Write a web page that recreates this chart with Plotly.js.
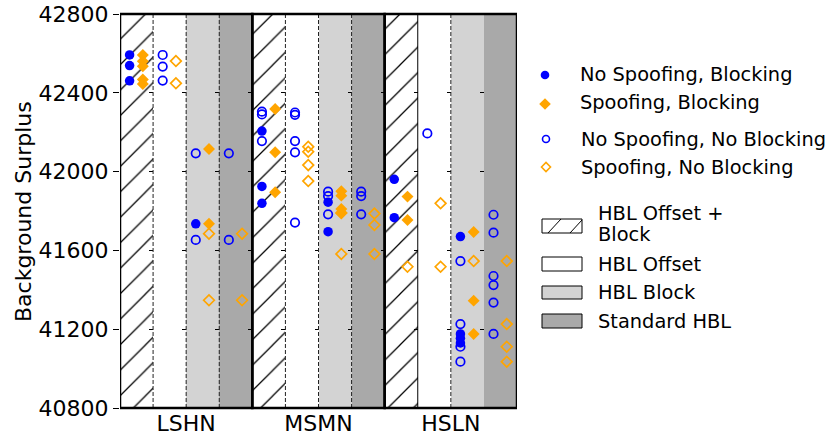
<!DOCTYPE html>
<html><head><meta charset="utf-8">
<script src="https://cdn.plot.ly/plotly-3.0.1.min.js"></script>
<style>html,body{margin:0;padding:0;background:#fff}</style>
</head><body><div id="chart" style="width:830px;height:435px"></div>
<script>
// ---------------- data ----------------
const panels = ['LSHN', 'MSMN', 'HSLN'];
const bands = ['HBL Offset + Block', 'HBL Offset', 'HBL Block', 'Standard HBL'];
const yTicks = [40800, 41200, 41600, 42000, 42400, 42800];
const yRange = [40800, 42800];

// No Spoofing, Blocking (filled blue circles)
const nsbPanel = [0,0,0, 0, 1,1,1, 1,1, 2,2, 2,2,2,2];
const nsbBand  = [0,0,0, 2, 0,0,0, 2,2, 0,0, 2,2,2,2];
const nsbValue = [42592,42538,42461, 41735, 42206,41925,41839, 41845,41695, 41961,41766, 41670,41176,41154,41130];

// Spoofing, Blocking (filled orange diamonds)
const sbPanel = [0,0,0,0,0, 0,0, 1,1,1, 1,1,1,1, 2,2, 2,2,2];
const sbBand  = [0,0,0,0,0, 2,2, 0,0,0, 2,2,2,2, 0,0, 2,2,2];
const sbValue = [42592,42560,42535,42468,42445, 42115,41735, 42318,42098,41895, 41900,41878,41810,41790, 41873,41754, 41693,41345,41176];

// No Spoofing, No Blocking (open blue circles)
const nsnbPanel = [0,0,0, 0,0, 0,0, 1,1,1, 1,1,1,1,1, 1,1,1, 1,1,1, 2, 2,2,2,2, 2,2,2,2,2,2];
const nsnbBand  = [1,1,1, 2,2, 3,3, 0,0,0, 1,1,1,1,1, 2,2,2, 3,3,3, 1, 2,2,2,2, 3,3,3,3,3,3];
const nsnbValue = [42592,42533,42462, 42093,41653, 42093,41653, 42304,42290,42155, 42300,42288,42155,42098,41741,
                   41898,41876,41783, 41898,41876,41783, 42194, 41546,41226,41111,41035, 41781,41690,41470,41424,41335,41176];

// Spoofing, No Blocking (open orange diamonds)
const snbPanel = [0,0, 0,0, 0,0, 1,1,1,1, 1,1, 1,1,1, 2, 2,2, 2, 2,2,2,2];
const snbBand  = [1,1, 2,2, 3,3, 1,1,1,1, 2,2, 3,3,3, 0, 1,1, 2, 3,3,3,3];
const snbValue = [42561,42448, 41685,41347, 41685,41347, 42126,42101,42033,41952, 41790,41582, 41787,41729,41582,
                  41517, 41839,41517, 41546, 41546,41226,41111,41035];

// ---------------- helpers ----------------
const FONT = 'DejaVu Sans, Liberation Sans, sans-serif';
const BLUE = '#0000ff', ORANGE = '#ffa500';
const nB = bands.length;
const xOf = (p, b, off) => p.map((pi, i) => pi * nB + b[i] + off);

const L = 120, R = 517, T = 14, B = 408;
const px = x => (x - L) / (R - L);
const py = y => (B - y) / (B - T);

const traces = [];

// background bands as bars
const bandFill = ['white', 'white', '#d3d3d3', '#a9a9a9'];
bands.forEach((name, b) => {
  const xs = panels.map((_, p) => p * nB + b + 0.5);
  const t = {
    type: 'bar', x: xs, y: panels.map(() => yRange[1] - yRange[0]), base: yRange[0],
    width: 1, showlegend: false, hoverinfo: 'skip',
    marker: { color: bandFill[b], line: { width: 0 } }
  };
  if (b === 0) {
    t.marker.pattern = { shape: '/', fgcolor: 'black', bgcolor: 'white', size: 18, solidity: 0.07, fillmode: 'replace' };
  }
  traces.push(t);
});

traces.push({
  type: 'scatter', mode: 'markers', name: 'No Spoofing, Blocking',
  x: xOf(nsbPanel, nsbBand, 0.29), y: nsbValue, showlegend: false,
  marker: { symbol: 'circle', size: 9.5, color: BLUE, line: { width: 0 } }
});
traces.push({
  type: 'scatter', mode: 'markers', name: 'Spoofing, Blocking',
  x: xOf(sbPanel, sbBand, 0.69), y: sbValue, showlegend: false,
  marker: { symbol: 'diamond', size: 9.2, color: ORANGE, line: { width: 0 } }
});
traces.push({
  type: 'scatter', mode: 'markers', name: 'No Spoofing, No Blocking',
  x: xOf(nsnbPanel, nsnbBand, 0.29), y: nsnbValue, showlegend: false,
  marker: { symbol: 'circle-open', size: 8.5, color: BLUE, line: { width: 1.7, color: BLUE } }
});
traces.push({
  type: 'scatter', mode: 'markers', name: 'Spoofing, No Blocking',
  x: xOf(snbPanel, snbBand, 0.69), y: snbValue, showlegend: false,
  marker: { symbol: 'diamond-open', size: 8.2, color: ORANGE, line: { width: 1.7, color: ORANGE } }
});

// ---------------- layout ----------------
const layout = {
  width: 830, height: 435,
  margin: { l: L, r: 830 - R, t: T, b: 435 - B },
  paper_bgcolor: 'white', plot_bgcolor: 'white',
  barmode: 'overlay', bargap: 0,
  showlegend: false,
  font: { family: FONT, color: 'black' },
  xaxis: {
    range: [0, panels.length * nB], tickvals: panels.map((_, p) => p * nB + nB / 2), ticktext: panels,
    ticks: '', showgrid: false, zeroline: false, showline: false,
    tickfont: { size: 22, family: FONT, color: 'black' }, fixedrange: true
  },
  yaxis: {
    range: yRange, tickvals: yTicks, ticktext: yTicks.map(String),
    ticks: 'outside', ticklen: 6, tickwidth: 1, tickcolor: 'black',
    showgrid: false, zeroline: false, showline: false,
    tickfont: { size: 22, family: FONT, color: 'black' },
    automargin: false
  },
  shapes: [],
  annotations: [{
    text: 'Background Surplus', textangle: -90, xref: 'paper', yref: 'paper',
    x: px(23), y: py(212), xanchor: 'center', yanchor: 'middle', showarrow: false,
    font: { size: 22, family: FONT, color: 'black' }
  }]
};

// small tick marks at each band boundary (one y axis per band edge)
for (let i = 1; i < panels.length * nB; i++) {
  const k = i + 1;
  layout['yaxis' + k] = {
    overlaying: 'y', anchor: 'free', position: i / (panels.length * nB), side: 'left',
    range: yRange, tickvals: yTicks, ticks: 'outside', ticklen: 4, tickcolor: 'black',
    showticklabels: false, showgrid: false, zeroline: false, showline: false
  };
  traces.push({ type: 'scatter', x: [], y: [], yaxis: 'y' + k, showlegend: false, hoverinfo: 'skip' });
}

// band separators inside each panel
const sepStyle = [['dash', 'dash', 'dash'], ['dash', 'dash', 'dash'], ['solid', 'dash', 'none']];
panels.forEach((_, p) => {
  for (let b = 1; b < nB; b++) {
    const st = sepStyle[p][b - 1];
    if (st === 'none') continue;
    layout.shapes.push({
      type: 'line', xref: 'x', yref: 'paper', x0: p * nB + b, x1: p * nB + b, y0: 0, y1: 1,
      line: { color: st === 'solid' ? 'black' : '#222', width: 1, dash: st === 'solid' ? 'solid' : '4px,2px' },
      layer: 'above'
    });
  }
});
// panel borders
panels.forEach((_, p) => {
  layout.shapes.push({
    type: 'rect', xref: 'x', yref: 'paper', x0: p * nB, x1: (p + 1) * nB, y0: 0, y1: 1,
    line: { color: 'black', width: 2.5 }, fillcolor: 'rgba(0,0,0,0)', layer: 'above'
  });
});

// ---------------- legend (drawn manually) ----------------
const legFont = { size: 19.4, family: FONT, color: 'black' };
function legText(text, x, y) {
  layout.annotations.push({ text, x: px(x), y: py(y), xref: 'paper', yref: 'paper',
    xanchor: 'left', yanchor: 'middle', showarrow: false, font: legFont });
}
function circ(cx, cy, r, filled, color) {
  layout.shapes.push({ type: 'circle', xref: 'paper', yref: 'paper',
    x0: px(cx - r), x1: px(cx + r), y0: py(cy + r), y1: py(cy - r),
    fillcolor: filled ? color : 'rgba(0,0,0,0)', line: { color, width: filled ? 0 : 1.6 } });
}
function diam(cx, cy, h, filled, color) {
  const path = `M${px(cx - h)},${py(cy)} L${px(cx)},${py(cy - h)} L${px(cx + h)},${py(cy)} L${px(cx)},${py(cy + h)} Z`;
  layout.shapes.push({ type: 'path', xref: 'paper', yref: 'paper', path,
    fillcolor: filled ? color : 'rgba(0,0,0,0)', line: { color, width: filled ? 0 : 1.6 } });
}
function patch(y0, y1, fill) {
  layout.shapes.push({ type: 'rect', xref: 'paper', yref: 'paper',
    x0: px(542), x1: px(582), y0: py(y1), y1: py(y0), fillcolor: fill, line: { color: 'black', width: 1 } });
}
circ(545, 75, 4.3, true, BLUE);          legText('No Spoofing, Blocking', 578, 75);
diam(545, 104, 5.8, true, ORANGE);       legText('Spoofing, Blocking', 578, 103);
circ(546, 139, 3.5, false, BLUE);        legText('No Spoofing, No Blocking', 579, 139);
diam(546, 167, 4.5, false, ORANGE);      legText('Spoofing, No Blocking', 579, 167);

patch(219, 233, 'white');
layout.shapes.push({ type: 'line', xref: 'paper', yref: 'paper', x0: px(548), y0: py(233), x1: px(561), y1: py(219), line: { color: 'black', width: 1 } });
layout.shapes.push({ type: 'line', xref: 'paper', yref: 'paper', x0: px(570), y0: py(233), x1: px(582), y1: py(220), line: { color: 'black', width: 1 } });
legText(bands[0].replace(' Block', ''), 596, 213);
legText('Block', 596, 235);
patch(257, 271, 'white');   legText(bands[1], 596, 264);
patch(286, 299, '#d3d3d3'); legText(bands[2], 596, 292);
patch(314, 328, '#a9a9a9'); legText(bands[3], 596, 321);

Plotly.newPlot('chart', traces, layout, { staticPlot: true, displayModeBar: false });
</script>
</body></html>
